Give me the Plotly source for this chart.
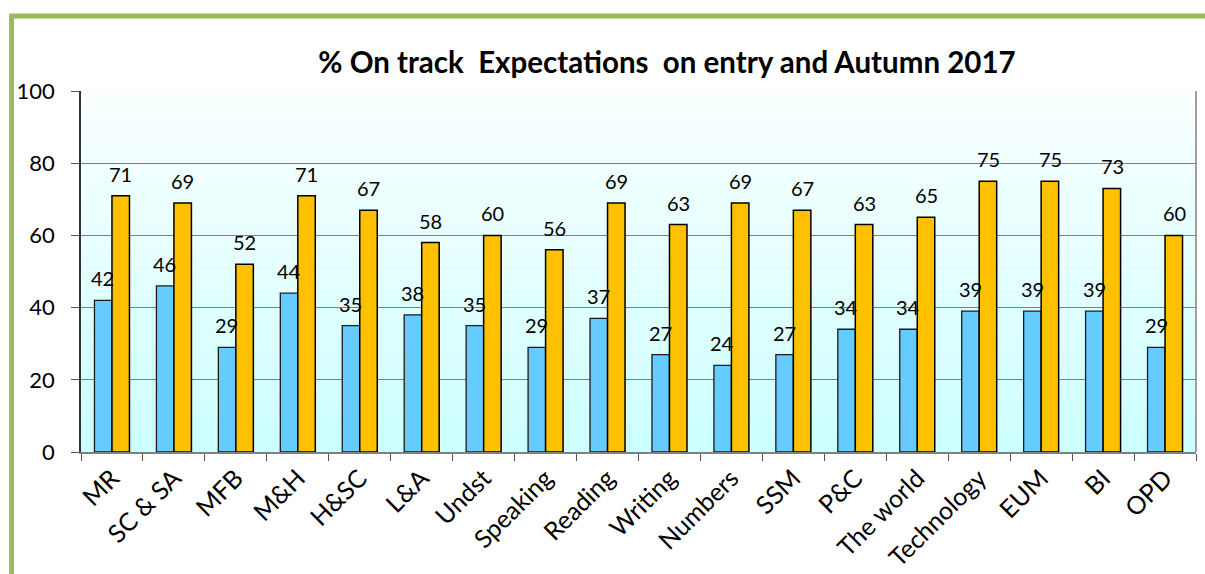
import plotly.graph_objects as go

categories = ["MR", "SC & SA", "MFB", "M&H", "H&SC", "L&A", "Undst", "Speaking",
              "Reading", "Writing", "Numbers", "SSM", "P&C", "The world",
              "Technology", "EUM", "BI", "OPD"]
on_entry = [42, 46, 29, 44, 35, 38, 35, 29, 37, 27, 24, 27, 34, 34, 39, 39, 39, 29]
autumn = [71, 69, 52, 71, 67, 58, 60, 56, 69, 63, 69, 67, 63, 65, 75, 75, 73, 60]
y_ticks = [0, 20, 40, 60, 80, 100]
title_text = "% On track\u00a0\u00a0Expectations\u00a0\u00a0on entry and Autumn 2017"

FONT = "Lato"
BLUE = "#66CCFF"
GOLD = "#FFC000"
GREEN = "#9BBB59"

fig = go.Figure()
fig.add_trace(go.Bar(x=categories, y=on_entry, name="On entry",
                     marker=dict(color=BLUE, line=dict(color="#1a1a1a", width=1.3))))
fig.add_trace(go.Bar(x=categories, y=autumn, name="Autumn 2017",
                     marker=dict(color=GOLD, line=dict(color="#000000", width=1.5))))

# gradient plot background (white at top -> light cyan at bottom)
shapes = []
n = 60
top = (250, 255, 255)
bot = (204, 255, 255)
for i in range(n):
    t = i / (n - 1)
    c = tuple(round(bot[k] + (top[k] - bot[k]) * t) for k in range(3))
    shapes.append(dict(type="rect", xref="paper", yref="paper",
                       x0=0, x1=1, y0=i / n, y1=(i + 1) / n,
                       fillcolor="rgb(%d,%d,%d)" % c, line=dict(width=0), layer="below"))

# green frame (top and left)
shapes.append(dict(type="line", xref="paper", yref="paper", x0=-0.0625, x1=1.02,
                   y0=1.2078, y1=1.2078, line=dict(color=GREEN, width=5)))
shapes.append(dict(type="line", xref="paper", yref="paper", x0=-0.0623, x1=-0.0623,
                   y0=1.214, y1=-0.36, line=dict(color=GREEN, width=5)))

annotations = []
for cat, v in zip(categories, on_entry):
    annotations.append(dict(x=cat, y=v, text=str(v), showarrow=False, xshift=-9,
                            yanchor="bottom", yshift=8,
                            font=dict(family=FONT, size=20, color="#000")))
for cat, v in zip(categories, autumn):
    annotations.append(dict(x=cat, y=v, text=str(v), showarrow=False, xshift=9,
                            yanchor="bottom", yshift=8,
                            font=dict(family=FONT, size=20, color="#000")))

fig.update_layout(
    width=1205, height=574,
    margin=dict(l=81, r=9, t=91, b=122),
    paper_bgcolor="white",
    plot_bgcolor="rgba(0,0,0,0)",
    barmode="group",
    bargap=0.435,
    bargroupgap=0,
    showlegend=False,
    shapes=shapes,
    annotations=annotations,
    title=dict(text=title_text, x=667 / 1205, xanchor="center", xref="container",
               y=1 - 63 / 574, yanchor="middle", yref="container",
               font=dict(family=FONT, size=29.5, color="#000", weight="bold")),
    font=dict(family=FONT, color="#000"),
)
fig.update_xaxes(
    type="category", tickson="boundaries", ticks="outside", ticklen=7,
    tickcolor="#555", showline=True, linecolor="#808080", linewidth=1.5,
    mirror=False, showgrid=False, tickangle=-45, automargin=False,
    tickfont=dict(family=FONT, size=25, color="#000"),
)
fig.update_yaxes(
    range=[0, 100], tickvals=y_ticks, ticks="outside", ticklen=8, tickcolor="#555",
    showline=True, linecolor="#333", linewidth=1.5, automargin=False,
    showgrid=True, gridcolor="#7f7f7f", gridwidth=1, zeroline=False,
    tickfont=dict(family=FONT, size=22, color="#000"), ticklabelstandoff=12,
)
# right border line
fig.add_shape(type="line", xref="paper", yref="paper", x0=1, x1=1, y0=0, y1=1,
              line=dict(color="#808080", width=1.5))

fig.write_html("out.html")
